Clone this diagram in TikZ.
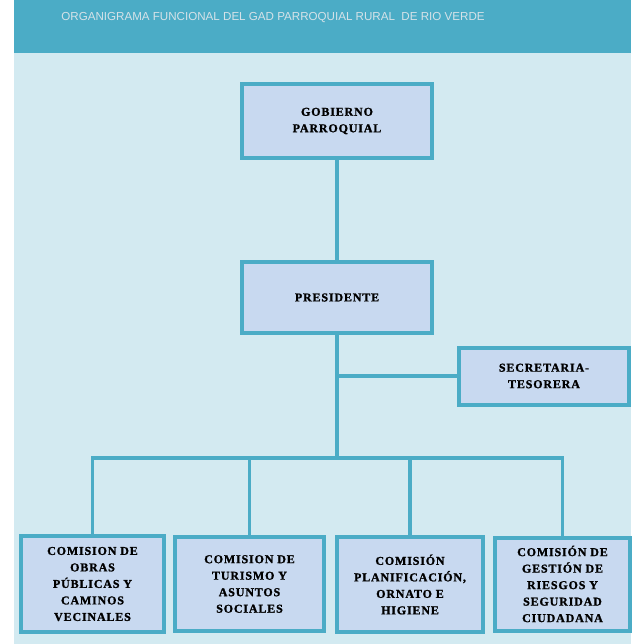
\documentclass[tikz,border=0pt]{standalone}
\usepackage{fontspec}
\setmainfont{Liberation Serif}
\newfontfamily\boxfont[LetterSpace=7, BoldFeatures={FakeBold=1.3}]{Liberation Serif}
\newfontfamily\titlefont{Liberation Sans}
\definecolor{band}{HTML}{4BACC6}
\definecolor{bgl}{HTML}{D3EAF1}
\definecolor{boxfill}{HTML}{C8D9F0}
\definecolor{edge}{HTML}{4BACC6}
\definecolor{titletext}{HTML}{D5E2E8}
\tikzset{
  orgbox/.style={draw=edge, line width=4pt, fill=boxfill, rectangle, inner sep=0pt,
    align=center, text=black, font=\boxfont\bfseries\fontsize{12}{16.5}\selectfont},
  conn/.style={draw=edge, line width=3.5pt}
}
\begin{document}
\begin{tikzpicture}[x=1pt,y=-1pt]
\useasboundingbox (0,0) rectangle (631,644);
\fill[white] (0,0) rectangle (631,644);
\fill[bgl] (14,53) rectangle (631,644);
\fill[band] (14,0) rectangle (631,53);
\node[text=titletext, font=\titlefont\fontsize{11.6}{13}\selectfont, inner sep=0pt] (title) at (273,18) {ORGANIGRAMA FUNCIONAL DEL GAD PARROQUIAL RURAL\ \ DE RIO VERDE};

\node[orgbox, minimum width=190pt, minimum height=74pt] (gob) at (337,121) {GOBIERNO\\PARROQUIAL};
\node[orgbox, minimum width=190pt, minimum height=71pt] (pres) at (337,297.5) {PRESIDENTE};
\node[orgbox, minimum width=170pt, minimum height=57pt] (sec) at (544,376) {SECRETARIA-\\TESORERA};

\node[orgbox, minimum width=143pt, minimum height=96pt] (b1) at (92.5,584) {COMISION DE\\OBRAS\\PÚBLICAS Y\\CAMINOS\\VECINALES};
\node[orgbox, minimum width=149pt, minimum height=94pt] (b2) at (249.5,584) {COMISION DE\\TURISMO Y\\ASUNTOS\\SOCIALES};
\node[orgbox, minimum width=146pt, minimum height=95pt] (b3) at (410,584.5) {COMISIÓN\\PLANIFICACIÓN,\\ORNATO E\\HIGIENE};
\node[orgbox, minimum width=135pt, minimum height=93pt] (b4) at (562.5,584) {COMISIÓN DE\\GESTIÓN DE\\RIESGOS Y\\SEGURIDAD\\CIUDADANA};

\coordinate (bus) at (337,458);
\coordinate (busL) at (b1.north |- bus);
\coordinate (busR) at (b4.north |- bus);
\coordinate (secj) at (pres.south |- sec.west);

\draw[conn] (gob.south) -- (pres.north);
\draw[conn] (pres.south) -- (bus);
\draw[conn] (secj) -- (sec.west);
\draw[conn] (b1.north) -- (busL) -- (busR) -- (b4.north);
\draw[conn] (b2.north) -- (b2.north |- bus);
\draw[conn] (b3.north) -- (b3.north |- bus);
\end{tikzpicture}
\end{document}
